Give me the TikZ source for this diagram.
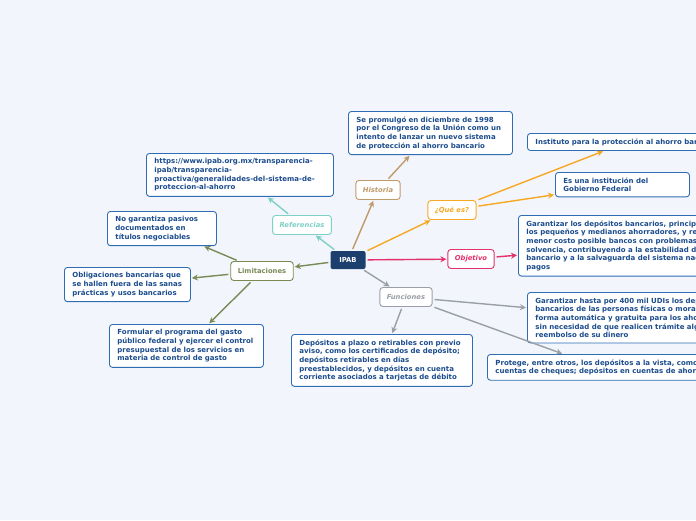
\documentclass[tikz,border=0pt]{standalone}
\usepackage{fontspec}
\setmainfont{DejaVu Sans}
\usetikzlibrary{arrows.meta}
\definecolor{mapbg}{HTML}{F2F5FC}
\definecolor{navy}{HTML}{1D3F6E}
\definecolor{leafline}{HTML}{2E6DB4}
\definecolor{leaftext}{HTML}{1B4C8C}
\definecolor{histcol}{HTML}{C09A6B}
\definecolor{refcol}{HTML}{7FD0C6}
\definecolor{quecol}{HTML}{F6A823}
\definecolor{objcol}{HTML}{E4306B}
\definecolor{funcol}{HTML}{9A9EA6}
\definecolor{limcol}{HTML}{7A8A55}

\begin{document}
\begin{tikzpicture}[x=1pt,y=-1pt,>={Stealth[length=6pt,width=6pt]},
  leaf/.style={draw=leafline,fill=white,rounded corners=3pt,line width=0.9pt,
    text=leaftext,font=\bfseries\fontsize{7}{8.7}\selectfont,align=left,
    inner xsep=8pt,inner ysep=5pt,anchor=north west},
  topic/.style={draw=#1,fill=white,rounded corners=3pt,line width=0.9pt,
    text=#1,font=\bfseries\itshape\fontsize{6.8}{8}\selectfont,
    minimum height=19pt,inner xsep=7pt},
  link/.style={->,line width=1.4pt,draw=#1,shorten <=2pt,shorten >=1pt}]
  \useasboundingbox[fill=mapbg] (0,0) rectangle (696,520);
  % centre
  \node[fill=navy,rounded corners=2pt,text=white,font=\bfseries\fontsize{6.8}{8}\selectfont,
    minimum width=35pt,minimum height=18pt] (ipab) at (348,260) {IPAB};
  % branches
  \node[topic=histcol] (hist) at (378,190) {Historia};
  \node[topic=refcol] (refs) at (302,225) {Referencias};
  \node[topic=quecol] (que) at (452,210) {¿Qué es?};
  \node[topic=objcol] (obj) at (471,259) {Objetivo};
  \node[topic=funcol] (fun) at (406,297) {Funciones};
  \node[topic=limcol,font=\bfseries\fontsize{6.8}{8}\selectfont] (lim) at (262,271) {Limitaciones};
  % leaves
  \node[leaf,text width=148pt] (histA) at (348,111) {Se promulgó en diciembre de 1998\\por el Congreso de la Unión como un\\intento de lanzar un nuevo sistema\\de protección al ahorro bancario};
  \node[leaf,text width=171pt] (refsA) at (146,153) {https://www.ipab.org.mx/transparencia-\\ipab/transparencia-\\proactiva/generalidades-del-sistema-de-\\proteccion-al-ahorro};
  \node[leaf] (queA) at (527,133) {Instituto para la protección al ahorro bancario};
  \node[leaf,text width=118pt] (queB) at (555,172) {Es una institución del\\Gobierno Federal};
  \node[leaf] (objA) at (518,215) {Garantizar los depósitos bancarios, principalmente\\los pequeños y medianos ahorradores, y resolver al\\menor costo posible bancos con problemas de\\solvencia, contribuyendo a la estabilidad del sistema\\bancario y a la salvaguarda del sistema nacional de\\pagos};
  \node[leaf] (funA) at (527,292) {Garantizar hasta por 400 mil UDIs los depósitos\\bancarios de las personas físicas o morales, de\\forma automática y gratuita para los ahorradores,\\sin necesidad de que realicen trámite alguno para el\\reembolso de su dinero};
  \node[leaf] (funB) at (487,354) {Protege, entre otros, los depósitos a la vista, como\\cuentas de cheques; depósitos en cuentas de ahorro};
  \node[leaf,text width=165pt] (funC) at (291,334) {Depósitos a plazo o retirables con previo\\aviso, como los certificados de depósito;\\depósitos retirables en días\\preestablecidos, y depósitos en cuenta\\corriente asociados a tarjetas de débito};
  \node[leaf,text width=93pt] (limA) at (107,211) {No garantiza pasivos\\documentados en\\títulos negociables};
  \node[leaf,text width=110pt] (limB) at (64,267) {Obligaciones bancarias que\\se hallen fuera de las sanas\\prácticas y usos bancarios};
  \node[leaf,text width=138pt] (limC) at (109,324) {Formular el programa del gasto\\público federal y ejercer el control\\presupuestal de los servicios en\\materia de control de gasto};
  % connectors
  \draw[link=histcol] (ipab) -- (hist);
  \draw[link=histcol] (hist) -- (histA);
  \draw[link=refcol] (ipab) -- (refs);
  \draw[link=refcol] (refs) -- (refsA);
  \draw[link=quecol] (ipab) -- (que);
  \draw[link=quecol] (que) -- (queA);
  \draw[link=quecol] (que) -- (queB);
  \draw[link=objcol] (ipab) -- (obj);
  \draw[link=objcol] (obj) -- (objA);
  \draw[link=funcol] (ipab) -- (fun);
  \draw[link=funcol] (fun) -- (funA);
  \draw[link=funcol] (fun) -- (funB);
  \draw[link=funcol] (fun) -- (funC);
  \draw[link=limcol] (ipab) -- (lim);
  \draw[link=limcol] (lim) -- (limA);
  \draw[link=limcol] (lim) -- (limB);
  \draw[link=limcol] (lim) -- (limC);
\end{tikzpicture}
\end{document}
